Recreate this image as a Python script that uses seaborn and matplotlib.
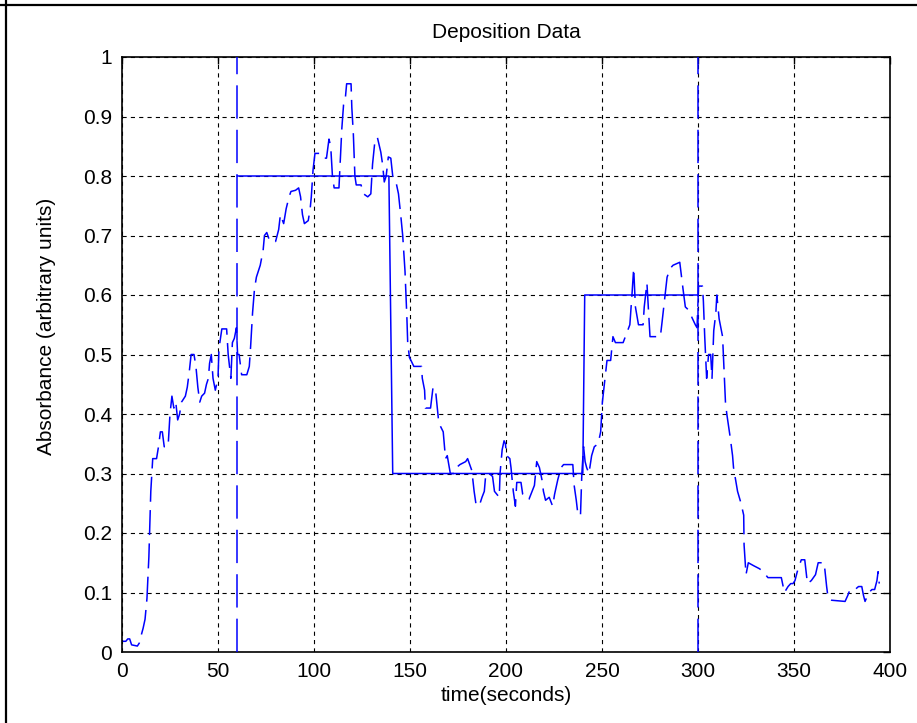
import numpy as np
import pandas as pd
import matplotlib
matplotlib.use("Agg")
import matplotlib.pyplot as plt
from matplotlib.lines import Line2D
from matplotlib.ticker import FormatStrFormatter
import seaborn as sns

# ---------------- data ----------------
time_s = [0, 2, 3, 4, 5, 8, 9, 10, 11, 12, 13, 14, 15, 16, 18, 19, 20, 21, 22, 24,
          25, 26, 27, 28, 29, 30, 31, 32, 33, 34, 35, 36, 37.5, 38.5, 39.5, 40.5, 41.5, 43, 44, 45,
          45.6, 46.5, 47.4, 48.6, 50, 50.5, 51.4, 52, 54.5, 55.3, 56, 56.7, 57.5, 58.5, 59.6, 60.2, 61, 62.3, 65, 66.3,
          67, 68, 69, 70, 72, 73.5, 74.2, 75.4, 77, 80, 81.6, 82.5, 84.2, 85.5, 87, 88, 90.4, 92, 93, 94,
          95, 97, 98, 98.6, 99.5, 100.5, 103.5, 105, 106.5, 107.8, 108.7, 109.6, 110.5, 113, 113.6, 114.5, 115.4, 116.3, 117, 119.3,
          119.7, 120.5, 121.3, 122, 124.5, 125.8, 128, 129.6, 130.5, 131.7, 133, 134.8, 135.7, 136.6, 137.6, 138.7, 140, 141, 142.7, 144,
          145.3, 146.2, 147.4, 148.4, 148.8, 149.7, 150.5, 152, 156, 156.4, 157.6, 158, 160.7, 162, 163.3, 164.2, 165, 167.3, 168.5, 169.4,
          171, 173, 174.2, 176, 179, 180, 182.2, 183.4, 184.3, 186, 187.5, 188.7, 189.5, 191.3, 193, 194, 196.5, 196.9, 198, 199,
          199.7, 200.3, 202, 202.6, 203.8, 204.9, 205.6, 207.8, 208.7, 210.5, 212, 214.8, 216, 217.4, 218.7, 219.5, 220.6, 222.5, 224.3, 225.3,
          227, 228.7, 230, 234.8, 235.5, 236.6, 237.5, 238.8, 239.5, 240.4, 241.2, 242, 243.2, 244.6, 246, 248, 249.3, 250.2, 251.6, 252.6,
          254.5, 255.7, 257, 261, 264.5, 265.6, 266.5, 267.4, 269, 271.4, 272, 273.4, 274.3, 275, 280.4, 281.3, 282.5, 283.9, 285.6, 287,
          290.5, 292.2, 293.4, 295, 298.6, 299.5, 300.3, 302.3, 302.8, 303.5, 304.5, 305.5, 306.6, 307.3, 308.2, 309.3, 309.8, 311, 312.8, 313.6,
          314.3, 315, 316.8, 318, 318.5, 320.6, 322.4, 323.8, 324, 325, 326.2, 329, 332, 334, 336.4, 343.4, 345, 346.9, 348.3, 349.5,
          350.5, 351.7, 353.8, 355.6, 357, 359, 361.2, 362.6, 365.7, 367, 367.8, 369.6, 376.6, 378, 379.2, 381.8, 383.6, 385.3, 386.2, 387,
          389, 390.6, 392, 393.2, 393.8, 394.4]
absorbance = [0.018, 0.018, 0.022, 0.022, 0.012, 0.010, 0.015, 0.028, 0.040, 0.055, 0.09, 0.16, 0.27, 0.325, 0.325, 0.345, 0.37, 0.37, 0.345, 0.345,
              0.40, 0.43, 0.41, 0.42, 0.39, 0.40, 0.42, 0.425, 0.43, 0.445, 0.47, 0.50, 0.50, 0.48, 0.445, 0.42, 0.43, 0.435, 0.45, 0.46,
              0.485, 0.50, 0.46, 0.44, 0.46, 0.51, 0.53, 0.543, 0.543, 0.50, 0.48, 0.46, 0.52, 0.527, 0.545, 0.50, 0.50, 0.466, 0.466, 0.48,
              0.514, 0.57, 0.61, 0.63, 0.65, 0.675, 0.70, 0.705, 0.69, 0.69, 0.71, 0.735, 0.72, 0.745, 0.765, 0.774, 0.776, 0.78, 0.765, 0.735,
              0.72, 0.725, 0.745, 0.765, 0.81, 0.838, 0.838, 0.83, 0.83, 0.862, 0.85, 0.80, 0.78, 0.78, 0.82, 0.88, 0.92, 0.93, 0.955, 0.955,
              0.915, 0.87, 0.80, 0.785, 0.785, 0.77, 0.765, 0.77, 0.82, 0.858, 0.865, 0.84, 0.82, 0.79, 0.80, 0.832, 0.83, 0.80, 0.79, 0.77,
              0.73, 0.70, 0.64, 0.56, 0.52, 0.495, 0.49, 0.48, 0.48, 0.46, 0.44, 0.41, 0.41, 0.445, 0.44, 0.41, 0.385, 0.37, 0.325, 0.33,
              0.30, 0.30, 0.31, 0.315, 0.32, 0.325, 0.305, 0.27, 0.25, 0.245, 0.26, 0.27, 0.30, 0.30, 0.295, 0.27, 0.26, 0.30, 0.34, 0.355,
              0.35, 0.33, 0.325, 0.31, 0.27, 0.245, 0.285, 0.285, 0.265, 0.257, 0.257, 0.28, 0.32, 0.31, 0.29, 0.27, 0.255, 0.26, 0.245, 0.265,
              0.29, 0.31, 0.315, 0.315, 0.28, 0.255, 0.23, 0.23, 0.30, 0.345, 0.32, 0.31, 0.30, 0.33, 0.345, 0.35, 0.37, 0.42, 0.46, 0.49,
              0.49, 0.53, 0.52, 0.52, 0.55, 0.60, 0.645, 0.58, 0.55, 0.55, 0.58, 0.62, 0.57, 0.53, 0.53, 0.555, 0.59, 0.63, 0.645, 0.65,
              0.655, 0.61, 0.58, 0.575, 0.55, 0.545, 0.615, 0.615, 0.59, 0.53, 0.46, 0.50, 0.50, 0.46, 0.54, 0.57, 0.60, 0.56, 0.53, 0.47,
              0.42, 0.40, 0.36, 0.33, 0.31, 0.27, 0.25, 0.23, 0.18, 0.13, 0.15, 0.145, 0.14, 0.135, 0.125, 0.125, 0.10, 0.11, 0.115, 0.115,
              0.12, 0.135, 0.155, 0.155, 0.115, 0.12, 0.13, 0.15, 0.15, 0.11, 0.09, 0.087, 0.085, 0.095, 0.105, 0.105, 0.11, 0.11, 0.095, 0.085,
              0.10, 0.105, 0.105, 0.12, 0.135, 0.115]

# programmed deposition profile (solid step line)
step_time = [60, 139, 141, 240, 241, 300]
step_level = [0.8, 0.8, 0.3, 0.3, 0.6, 0.6]

# vertical marker lines
marker_times = [60, 300]

x_ticks = [0, 50, 100, 150, 200, 250, 300, 350, 400]
y_ticks = [0, 0.1, 0.2, 0.3, 0.4, 0.5, 0.6, 0.7, 0.8, 0.9, 1.0]

# ---------------- style ----------------
sns.set_theme(style="white")
plt.rcParams["font.family"] = ["Liberation Sans", "DejaVu Sans"]
plt.rcParams["lines.scale_dashes"] = False

W, H = 917, 723
fig = plt.figure(figsize=(W / 100, H / 100), dpi=100)
fig.patch.set_facecolor("white")
ax = fig.add_axes([122 / W, 1 - 652 / H, (890 - 122) / W, (652 - 57) / H])
ax.set_facecolor("white")

blue = "#0000FF"
dash_curve = (0, (18, 6))
dash_marker = (0, (24, 8))

curve = pd.DataFrame({"t": time_s, "a": absorbance})
sns.lineplot(data=curve, x="t", y="a", ax=ax, sort=False, estimator=None,
             color=blue, linewidth=1.1, linestyle=dash_curve)

step = pd.DataFrame({"t": step_time, "a": step_level})
sns.lineplot(data=step, x="t", y="a", ax=ax, sort=False, estimator=None,
             color=blue, linewidth=1.1)

for mt in marker_times:
    ax.axvline(mt, color=blue, linewidth=1.1, linestyle=dash_marker, zorder=3)

ax.set_xlim(0, 400)
ax.set_ylim(0, 1)
ax.set_xticks(x_ticks)
ax.set_yticks(y_ticks)
ax.yaxis.set_major_formatter(FormatStrFormatter("%g"))
ax.xaxis.set_major_formatter(FormatStrFormatter("%g"))

ax.grid(True, color="black", linewidth=0.8, linestyle=(0, (3.0, 3.0)))
ax.set_axisbelow(True)

for sp in ax.spines.values():
    sp.set_visible(True)
    sp.set_color("black")
    sp.set_linewidth(1.2)

ax.tick_params(axis="both", which="major", direction="in", length=5, width=1.0,
               top=True, right=True, labelsize=15, colors="black", pad=7)

ax.set_title("Deposition Data", fontsize=15, pad=14, color="black")
ax.set_xlabel("time(seconds)", fontsize=15, color="black", labelpad=4)
ax.set_ylabel("Absorbance (arbitrary units)", fontsize=15, color="black")
ax.yaxis.set_label_coords(-0.086, 0.548)

# window frame at top and left edges
fig.add_artist(Line2D([0, 1], [1 - 5 / H, 1 - 5 / H], transform=fig.transFigure,
                      color="black", linewidth=1.6))
fig.add_artist(Line2D([6 / W, 6 / W], [0, 1], transform=fig.transFigure,
                      color="black", linewidth=1.6))

fig.savefig("out.png", dpi=100, facecolor="white")
